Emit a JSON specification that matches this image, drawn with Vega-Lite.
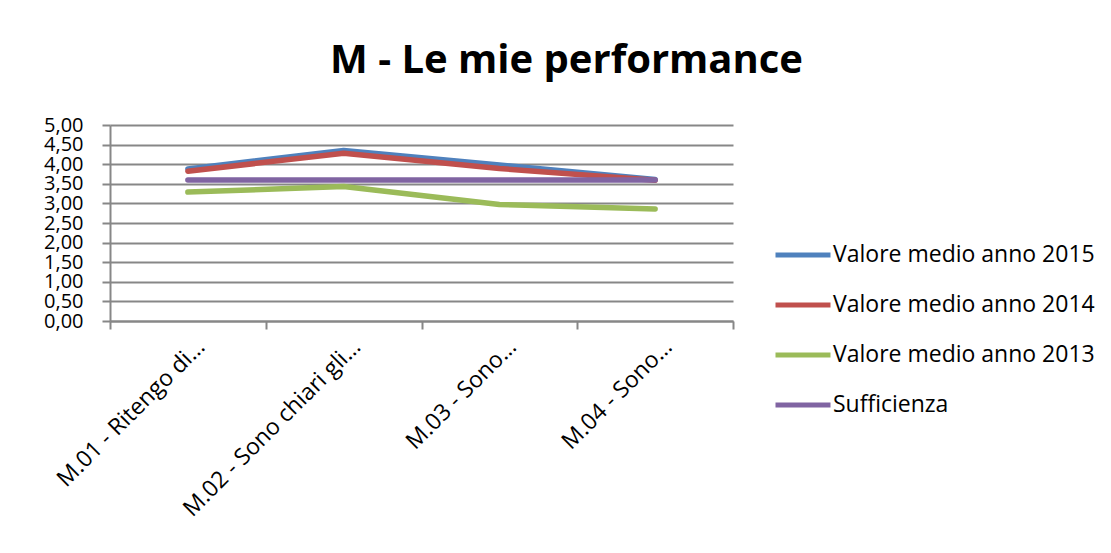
{
  "$schema": "https://vega.github.io/schema/vega-lite/v6.json",
  "width": 623,
  "height": 196,
  "autosize": {"type": "none"},
  "padding": {"left": 110, "top": 125, "right": 378, "bottom": 232},
  "background": "white",
  "title": {
    "text": "M - Le mie performance",
    "font": "Open Sans",
    "fontSize": 40,
    "fontWeight": "bold",
    "color": "black",
    "anchor": "middle",
    "frame": "group",
    "dx": 145,
    "baseline": "alphabetic",
    "offset": 2
  },
  "data": {
    "values": [
      {"cat": "M.01 - Ritengo di…", "serie": "Valore medio anno 2015", "v": 3.88},
      {"cat": "M.02 - Sono chiari gli…", "serie": "Valore medio anno 2015", "v": 4.35},
      {"cat": "M.03 - Sono…", "serie": "Valore medio anno 2015", "v": 3.98},
      {"cat": "M.04 - Sono…", "serie": "Valore medio anno 2015", "v": 3.61},
      {"cat": "M.01 - Ritengo di…", "serie": "Valore medio anno 2014", "v": 3.82},
      {"cat": "M.02 - Sono chiari gli…", "serie": "Valore medio anno 2014", "v": 4.28},
      {"cat": "M.03 - Sono…", "serie": "Valore medio anno 2014", "v": 3.89},
      {"cat": "M.04 - Sono…", "serie": "Valore medio anno 2014", "v": 3.59},
      {"cat": "M.01 - Ritengo di…", "serie": "Valore medio anno 2013", "v": 3.29},
      {"cat": "M.02 - Sono chiari gli…", "serie": "Valore medio anno 2013", "v": 3.43},
      {"cat": "M.03 - Sono…", "serie": "Valore medio anno 2013", "v": 2.97},
      {"cat": "M.04 - Sono…", "serie": "Valore medio anno 2013", "v": 2.86},
      {"cat": "M.01 - Ritengo di…", "serie": "Sufficienza", "v": 3.6},
      {"cat": "M.02 - Sono chiari gli…", "serie": "Sufficienza", "v": 3.6},
      {"cat": "M.03 - Sono…", "serie": "Sufficienza", "v": 3.6},
      {"cat": "M.04 - Sono…", "serie": "Sufficienza", "v": 3.6}
    ]
  },
  "mark": {"type": "line", "strokeWidth": 5.5, "strokeCap": "round", "strokeJoin": "round"},
  "encoding": {
    "x": {
      "field": "cat",
      "type": "nominal",
      "sort": null,
      "scale": {"type": "band", "paddingInner": 0, "paddingOuter": 0},
      "axis": {
        "title": null,
        "labelAngle": -45,
        "labelFont": "Open Sans",
        "labelFontSize": 23,
        "labelColor": "black",
        "labelOffset": 5,
        "labelPadding": 6,
        "labelLimit": 400,
        "labelOverlap": false,
        "tickBand": "extent",
        "tickSize": 8,
        "tickWidth": 2,
        "tickColor": "#878787",
        "domainColor": "#878787",
        "domainWidth": 2,
        "grid": false
      }
    },
    "y": {
      "field": "v",
      "type": "quantitative",
      "scale": {"domain": [0, 5], "nice": false, "zero": true},
      "axis": {
        "title": null,
        "values": [0, 0.5, 1, 1.5, 2, 2.5, 3, 3.5, 4, 4.5, 5],
        "labelExpr": "replace(format(datum.value, '.2f'), '.', ',')",
        "labelFont": "Open Sans",
        "labelFontSize": 20,
        "labelColor": "black",
        "labelPadding": 19,
        "labelOverlap": false,
        "tickSize": 8,
        "tickWidth": 2,
        "tickColor": "#878787",
        "domainColor": "#878787",
        "domainWidth": 2,
        "grid": true,
        "gridColor": "#878787",
        "gridWidth": 2
      }
    },
    "color": {
      "field": "serie",
      "type": "nominal",
      "scale": {
        "domain": ["Valore medio anno 2015", "Valore medio anno 2014", "Valore medio anno 2013", "Sufficienza"],
        "range": ["#4F81BD", "#C0504D", "#9BBB59", "#8064A2"]
      },
      "legend": {
        "title": null,
        "orient": "none",
        "legendX": 663,
        "legendY": 100,
        "symbolType": "stroke",
        "symbolSize": 3025,
        "symbolStrokeWidth": 5,
        "labelFont": "Open Sans",
        "labelFontSize": 23,
        "labelColor": "black",
        "labelOffset": 0,
        "rowPadding": 8,
        "labelLimit": 400
      }
    }
  },
  "config": {"view": {"stroke": null}}
}
